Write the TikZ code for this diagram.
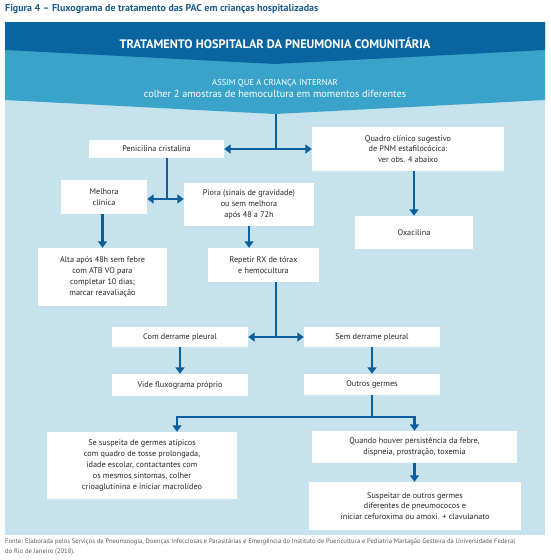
\documentclass[tikz,border=0pt]{standalone}
\usepackage{fontspec}
\setmainfont{PT Sans}
\usetikzlibrary{arrows.meta}
\definecolor{escuro}{HTML}{0A64A0}
\definecolor{medio}{HTML}{3AA3C9}
\definecolor{claro}{HTML}{C6E2EC}
\definecolor{azulseta}{HTML}{0B5F9C}
\definecolor{azultitulo}{HTML}{1C5C8C}
\definecolor{cinzafonte}{HTML}{5A5A5A}

\begin{document}
\begin{tikzpicture}[x=1pt, y=-1pt,
	caixa/.style={fill=white, inner sep=0pt, align=center, text=black!85,
		font=\fontsize{8.2}{10.8}\selectfont},
	tam/.style 2 args={minimum width=#1pt, minimum height=#2pt},
	linha/.style={draw=azulseta, line width=2.5pt},
	fluxo/.style={linha, -{Triangle[length=6.5pt,width=9pt]}},
	duplo/.style={linha, {Triangle[length=6.5pt,width=9pt]}-{Triangle[length=6.5pt,width=9pt]}}]
	\useasboundingbox (0,0) rectangle (550,560);
	% faixas do topo
	\fill[claro] (5,22) rectangle (545,535);
	\fill[medio] (5,22) -- (545,22) -- (545,100) -- (275,114) -- (5,100) -- cycle;
	\fill[escuro] (5,22) -- (545,22) -- (545,50) -- (275,64) -- (5,50) -- cycle;
	\node[anchor=west, inner sep=0pt, text=azultitulo, font=\bfseries\fontsize{10}{12}\selectfont] (titulo) at (5,9) {Figura 4 – Fluxograma de tratamento das PAC em crianças hospitalizadas};
	\node[text=white, font=\bfseries\fontsize{12.3}{14}\selectfont] (cab) at (275,43) {TRATAMENTO HOSPITALAR DA PNEUMONIA COMUNITÁRIA};
	\node[text=white, align=center, font=\fontsize{10.3}{11.5}\selectfont] (sub) at (275,88.5) {{\fontsize{8.6}{11.5}\selectfont ASSIM QUE A CRIANÇA INTERNAR}\\colher 2 amostras de hemocultura em momentos diferentes};
	% caixas
	\node[caixa, tam={135}{18}] (pen) at (156.5,149) {Penicilina cristalina};
	\node[caixa, tam={192}{44}] (quad) at (408,149) {Quadro clínico sugestivo\\de PNM estafilocócica:\\ver obs. 4 abaixo};
	\node[caixa, tam={86}{34}] (melh) at (104,197) {Melhora\\clínica};
	\node[caixa, tam={130}{43}] (pior) at (249,204.5) {Piora (sinais de gravidade)\\ou sem melhora\\após 48 a 72h};
	\node[caixa, tam={118}{33}] (oxa) at (414,232.5) {Oxacilina};
	\node[caixa, tam={129}{58}] (alta) at (102.5,277) {Alta após 48h sem febre\\com ATB VO para\\completar 10 dias;\\marcar reavaliação};
	\node[caixa, tam={111}{34}] (rep) at (263.5,265) {Repetir RX de tórax\\e hemocultura};
	\node[caixa, tam={136}{20}] (com) at (180,337) {Com derrame pleural};
	\node[caixa, tam={136}{20}] (sem) at (372,337) {Sem derrame pleural};
	\node[caixa, tam={136}{22}] (vide) at (180,385) {Vide fluxograma próprio};
	\node[caixa, tam={136}{21}] (outr) at (372,384.5) {Outros germes};
	\node[caixa, tam={190}{67}] (sesp) at (142,465.5) {Se suspeita de germes atípicos\\com quadro de tosse prolongada,\\idade escolar, contactantes com\\os mesmos sintomas, colher\\crioaglutinina e iniciar macrolídeo};
	\node[caixa, tam={205}{32}] (quan) at (414.5,447) {Quando houver persistência da febre,\\dispneia, prostração, toxemia};
	\node[caixa, tam={212}{48}] (susp) at (415,506) {Suspeitar de outros germes\\diferentes de pneumococos e\\iniciar cefuroxima ou amoxi. + clavulanato};
	\node[anchor=north west, inner sep=0pt, align=left, text=cinzafonte, font=\fontsize{6.6}{10}\selectfont] (fonte) at (5,538.5) {Fonte: Elaborada pelos Serviços de Pneumologia, Doenças Infecciosas e Parasitárias e Emergência do Instituto de Puericultura e Pediatria Martagão Gesteira da Universidade Federal\\do Rio de Janeiro (2018).};
	% pontos de juncao
	\coordinate (ponta) at (276,114);
	\coordinate (j1) at (276,149);
	\coordinate (j2) at (167,199);
	\coordinate (j3) at (276,337);
	\coordinate (j4) at (372,417);
	\coordinate (esq) at (177,417);
	% setas
	\draw[linha] (ponta) -- (j1);
	\draw[duplo] (pen.east) -- (quad.west);
	\draw[linha] (pen.south -| j2) -- (j2);
	\draw[duplo] (melh.east |- j2) -- (pior.west |- j2);
	\draw[fluxo] (quad.south -| oxa.north) -- (oxa.north);
	\draw[fluxo] (melh.south -| alta.north) -- (alta.north);
	\draw[fluxo] (pior.south) -- (pior.south |- rep.north);
	\draw[linha] (rep.south -| j3) -- (j3);
	\draw[duplo] (com.east) -- (sem.west);
	\draw[fluxo] (com.south) -- (vide.north);
	\draw[fluxo] (sem.south) -- (outr.north);
	\draw[linha] (outr.south) -- (j4);
	\draw[fluxo] (j4) -| (esq |- sesp.north);
	\draw[fluxo] (j4) -| (quan.north);
	\draw[fluxo] (quan.south) -- (quan.south |- susp.north);
\end{tikzpicture}
\end{document}
